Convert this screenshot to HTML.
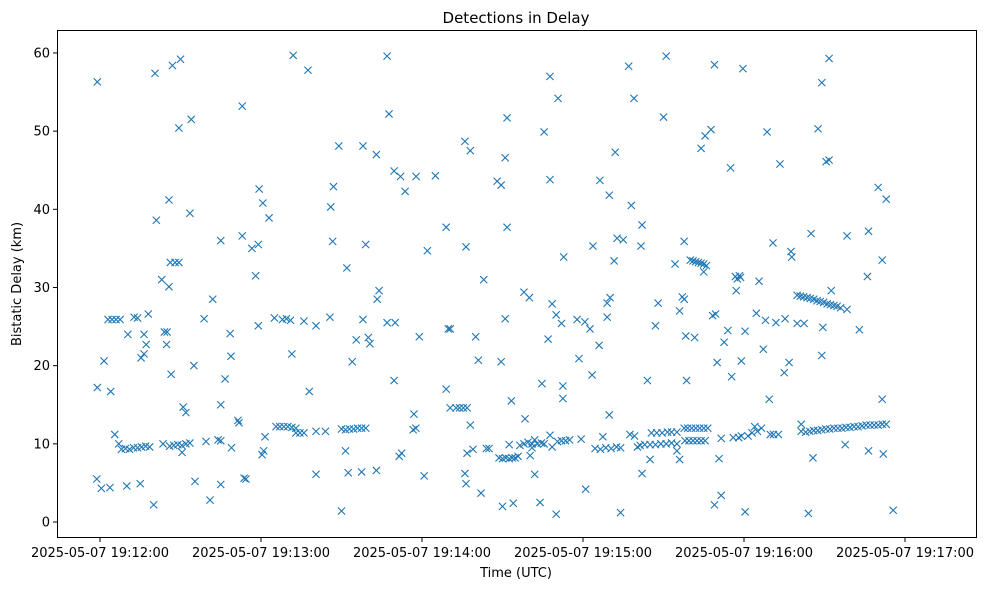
<!DOCTYPE html>
<html><head><meta charset="utf-8">
<style>
html,body{margin:0;padding:0;background:#fff;}
svg text{font-family:"DejaVu Sans","Liberation Sans",sans-serif;fill:#000;}
</style></head>
<body>
<svg id="chart" width="986" height="590" xmlns="http://www.w3.org/2000/svg">
<text x="516" y="23" font-size="15" text-anchor="middle">Detections in Delay</text>
<rect x="57.5" y="30.5" width="919" height="507" fill="none" stroke="#000" stroke-width="1"/>
<g id="xticks"></g>
<g id="yticks"></g>
<g id="marks"></g>
<text x="516" y="577" font-size="13" text-anchor="middle">Time (UTC)</text>
<text x="21" y="284" font-size="13" text-anchor="middle" transform="rotate(-90 21 284)">Bistatic Delay (km)</text>
</svg>
<script>
// seconds since 19:12:00, delay km
const detections = [
[-1,56.3],[-1,17.2],[-1.2,5.5],[0.5,4.3],[1.5,20.6],[3.7,4.4],[4,16.7],[3,25.9],[4.5,25.9],[6,25.9],[7.5,25.9],[5.5,11.2],[7,10],
[8,9.3],[9.5,9.4],[11,9.3],[12.5,9.5],[14,9.5],[15.5,9.6],[17,9.7],[18.5,9.6],
[10,4.6],[10.4,24],[12.7,26.2],[14,26.1],[15,4.9],[15.3,21],[16.4,21.5],[16.4,24],[17.2,22.7],[18,26.6],[20,2.2],[20.5,57.4],[21,38.6],[23,31],[23.5,10],[24,24.3],[25,24.3],[24.8,22.7],[25.7,30.1],[25.7,41.2],[26.5,18.9],[26.2,33.2],[28,33.2],[27,58.4],[29.4,33.2],[29.4,50.4],[30,59.2],
[26,9.7],[27.5,9.8],[29,9.9],[30.5,9.8],[32,10],[33.5,10.1],[30.6,8.9],[31,14.7],[32,14],[33.5,39.5],[34,51.5],[35,20],[35.4,5.2],[38.8,26],[39.5,10.3],[41,2.8],[42,28.5],[44,10.5],[45,10.4],[45,36],[45,15],[45,4.8],[46.6,18.3],[48.5,24.1],[48.8,21.2],[49,9.5],[51.4,13],[51.8,12.7],[53,36.6],[53,53.2],[53.7,5.6],[54.4,5.5],[56.6,35],[59,35.5],[58,31.5],[59,25.1],[59.3,42.6],[60.7,40.8],[60.4,8.6],[61,9.1],[61.5,10.9],[63,38.9],[65,26.1],
[65.6,12.2],[67,12.2],[68.5,12.2],[70,12.2],[71.5,12.1],[73,12.0],[68,25.9],[69.5,26],[71,25.8],[71.5,21.5],[73,11.4],[74.5,11.4],[76,11.4],[72,59.7],[76,25.7],[78,16.7],[77.5,57.8],[80.5,6.1],[80.5,25.1],[80.5,11.6],[84,11.6],[85.7,26.2],[86,40.3],[87,42.9],[86.7,35.9],[89,48.1],[90,1.4],
[90,11.9],[91.5,11.8],[93,11.9],[94.5,11.9],[96,12],[97.5,12],[99,12],[91.5,9.1],[92.5,6.3],[92,32.5],[94,20.5],[95.5,23.3],[98,25.9],[98,48.1],[97.5,6.4],[99,35.5],[100,23.6],[100.6,22.8],[103,47],[103,6.6],[103.3,28.5],[104,29.6],[107,59.6],[107.7,52.2],[107,25.5],[110,25.5],[109.6,44.9],[109.6,18.1],[112,44.2],[111.5,8.4],[112.4,8.8],[113.7,42.3],[117,13.8],[116.7,11.8],[117.7,12],[117.8,44.2],[119,23.7],[120.8,5.9],[122,34.7],[125,44.3],[129,37.7],[129,17],[130.5,14.6],[129.8,24.7],[130.5,24.7],
[132.7,14.6],[134,14.6],[135.4,14.6],[136.8,14.6],[136,48.7],[136.4,35.2],[138,47.5],[136,6.2],[136.4,4.9],[136.8,8.8],[139,9.3],[138,12.4],[140,23.7],[141,20.7],[142,3.7],[143,31],[144,9.4],[145,9.4],[148,43.6],[149.5,43.1],[149.5,20.5],
[148.7,8.2],[150,8.1],[151.2,8.2],[152.5,8.1],[153.6,8.2],[154.7,8.2],[150,2],[151,46.6],[151,26],[151.7,51.7],[151.7,37.7],[152.5,9.9],[154,2.4],[153.3,15.5],[155.8,8.4],
[156.5,9.8],[158,10],[159.5,10.2],[161,10],[158.4,13.2],[158,29.4],[160,28.7],[161,9.5],[160.3,8.5],[162,10.5],[162,6.1],[163,10],[164.5,10.1],[165.5,10],[164,2.5],[164.7,17.7],[165.5,49.9],[167,23.4],[167.7,43.8],[167.7,57],[168.5,27.9],[167.7,11.1],[168.5,9.6],[170,26.5],[170.7,54.2],[170,1],[172,25.4],
[170.5,10.3],[172,10.4],[173.5,10.4],[175,10.5],[172.5,17.4],[172.5,15.8],[172.8,33.9],[177.8,25.9],[178.5,20.9],[179.3,10.6],[181,4.2],[180.7,25.6],[182.6,24.7],[183.4,18.8],[183.7,35.3],
[184.5,9.4],[186.5,9.3],[188.5,9.5],[190.5,9.4],[192.5,9.6],[194,9.5],[186,22.6],[186.3,43.7],[187.4,10.9],[189,26.2],[189,28],[189.8,41.8],[190.1,28.7],[189.8,13.7],[191.6,33.4],[192,47.3],[192.7,36.3],[195,36.1],[194,1.2],[197,58.3],[197.5,11.2],[198,40.5],[199.2,11],[199,54.2],[200.3,9.6],[201.6,35.3],[202,38],[202,6.2],[204,18.1],
[201.3,9.8],[203,9.9],[205,9.9],[207,9.9],[209,10],[211,10],[213,10.1],[207,25.1],[208,28],[205.5,11.4],[207.5,11.4],[209.5,11.4],[205,8],[211,59.6],[210,51.8],[211.5,11.5],[213,11.5],[215,11.5],[215,10],[215,9.1],[214.3,33],[216,8],[216,27],[217,28.8],[217.7,28.5],[217.7,35.9],[218.6,18.1],[218.3,23.8],
[217.7,12],[219,12],[220.5,12],[222,12],[223.5,12],[225,12],[226.5,12],[218,10.4],[219.5,10.4],[221,10.4],[222.5,10.4],[224,10.4],[225.5,10.4],
[220,33.5],[221,33.4],[222,33.3],[223,33.2],[224,33.1],[225,33],[226,32.8],[221.6,23.6],[224,47.8],[225,32],[225.5,49.4],[227.7,50.2],[229,58.5],[228.3,26.4],[229.4,26.6],[229,2.2],[231.5,3.4],[230.7,8.1],[230,20.4],[231.5,10.7],[232.6,23],[234,24.5],[235,45.3],[235.4,18.6],[236,10.8],[238,10.8],[239,11],[236.8,31.4],[237.5,31.1],[238.3,31.5],[238.7,31.3],[237.1,29.6],[240.4,1.3],[239.6,58],[239,20.6],[240.4,24.4],
[241.5,11],[243,11.4],[244,12.2],[245,11.6],[246.5,12],[245.6,30.8],[244.6,26.7],[248,25.8],[247.2,22.1],[248.6,49.9],[249.4,15.7],[249.8,11.2],[251,11.2],[252.8,11.2],[250.8,35.7],[251.9,25.5],[253.4,45.8],[255,19.1],[255.3,26],[256.8,20.4],[257.5,34.6],[257.8,33.9],
[259.8,29],[261,28.9],[262.2,28.8],[263.5,28.7],[264.7,28.6],[266,28.5],[267.2,28.3],[268.4,28.2],[269.7,28.1],[271,27.9],[272.2,27.8],[273.5,27.7],[274.7,27.6],[276,27.4],
[259.8,25.4],[262.4,25.4],[264,1.1],[261.3,12.5],[261.3,11.6],[263,11.5],[264.5,11.6],[266,11.7],[267.5,11.7],[269,11.8],[270.5,11.9],[272,11.9],[273.5,12],[275,12],[276.5,12],[278,12.1],[279.5,12.1],[281,12.2],[282.5,12.2],
[265,36.9],[265.7,8.2],[267.6,50.3],[269,56.2],[269,21.3],[269.4,24.9],[270.6,46.1],[271.7,46.3],[271.7,59.3],[272.5,29.6],[278.4,27.2],[277.7,9.9],[278.4,36.6],[283,24.6],
[284,12.3],[285.5,12.4],[287,12.4],[288.5,12.4],[290,12.4],[291.5,12.5],[293,12.5],[286,31.4],[286.4,37.2],[286.4,9.1],[290,42.8],[291.5,33.5],[291.5,15.7],[291.9,8.7],[293,41.3],[295.6,1.5]
];
const yTicks = [0,10,20,30,40,50,60];
const xTickSecs = [0,60,120,180,240,300];
const xTickLabels = ["2025-05-07 19:12:00","2025-05-07 19:13:00","2025-05-07 19:14:00","2025-05-07 19:15:00","2025-05-07 19:16:00","2025-05-07 19:17:00"];

const NS = "http://www.w3.org/2000/svg";
function xs(s){ return 100 + s * 161/60; }
function ys(v){ return 522 - v * 7.817; }
function mk(tag, attrs, parent){ const e=document.createElementNS(NS,tag); for(const k in attrs) e.setAttribute(k,attrs[k]); parent.appendChild(e); return e; }

const yg = document.getElementById('yticks');
yTicks.forEach(v=>{
  const y = ys(v);
  const t = mk('line',{x1:53,x2:57.5,y1:y,y2:y,stroke:'#000'},yg);
  
  
  const l = mk('text',{x:50,y:y+4.5,'font-size':13,'text-anchor':'end'},yg);
  l.textContent = v;
  
  
});
const xg = document.getElementById('xticks');
xTickSecs.forEach((s,i)=>{
  const x = xs(s);
  const t = mk('line',{x1:x,x2:x,y1:537.5,y2:542,stroke:'#000'},xg);
  
  
  const l = mk('text',{x:x,y:557,'font-size':13,'text-anchor':'middle'},xg);
  l.textContent = xTickLabels[i];
  
  
});
const mg = document.getElementById('marks');
detections.forEach(p=>{
  const x = xs(p[0]), y = ys(p[1]), r = 3.6;
  const m = mk('path',{d:`M${x-r},${y-r}L${x+r},${y+r}M${x-r},${y+r}L${x+r},${y-r}`,stroke:'#1f77b4','stroke-width':1.1,fill:'none'},mg);
  
  
});
</script>
</body></html>
